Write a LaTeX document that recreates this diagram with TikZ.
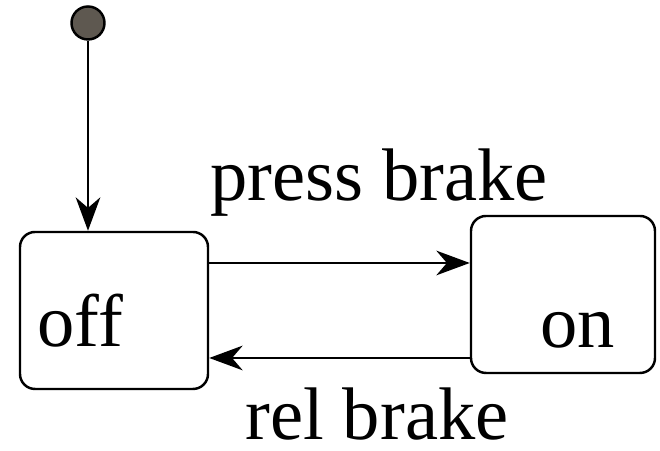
\documentclass[tikz,border=0pt]{standalone}
\usepackage{fontspec}
\setmainfont{Liberation Serif}
\usetikzlibrary{arrows.meta}
\definecolor{initgray}{RGB}{94,88,80}

\begin{document}
\begin{tikzpicture}[
  state/.style={draw, line width=0.7pt, rounded corners=0.15cm, minimum height=1.57cm},
  trans/.style={line width=0.7pt, -{Stealth[length=9.5pt,width=7pt,inset=3pt]}},
  lbl/.style={anchor=base west, inner sep=0pt, font=\fontsize{21.2}{25}\selectfont}
]
\useasboundingbox (0,0) rectangle (6.6,4.51);
\node[circle, draw, fill=initgray, line width=0.7pt, minimum size=0.33cm, inner sep=0pt] (init) at (0.88,4.28) {};
\node[state, minimum width=1.88cm] (off) at (1.14,1.405) {};
\node[state, minimum width=1.84cm] (on) at (5.63,1.565) {};
\node[lbl] (offtxt) at (0.37,1.04) {of{}f};
\node[lbl] (ontxt) at (5.40,1.03) {on};
\node[lbl] (press) at (2.10,2.50) {press brake};
\node[lbl] (rel) at (2.45,0.11) {rel brake};
\draw[trans] (init) -- (init |- off.north);
\draw[trans] ([yshift=4.75mm]off.east) -- ([yshift=4.75mm]off.east -| on.west);
\draw[trans] ([yshift=-6.35mm]on.west) -- ([yshift=-6.35mm]on.west -| off.east);
\end{tikzpicture}
\end{document}
